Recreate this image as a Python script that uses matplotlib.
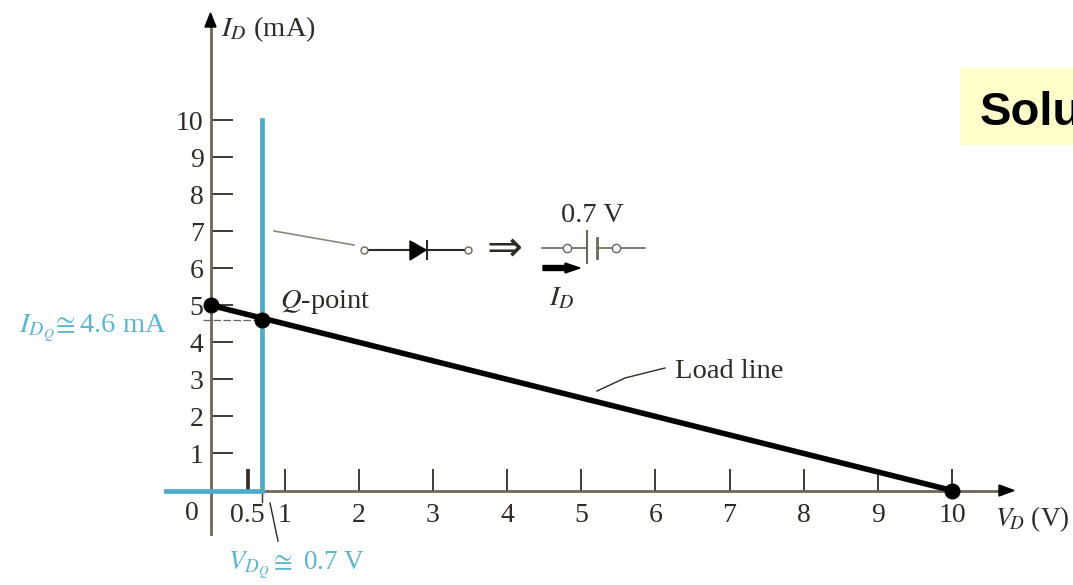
import matplotlib
matplotlib.use('Agg')
import matplotlib.pyplot as plt
from matplotlib.patches import Polygon, Rectangle

# Chart values
x_ticks = [0.5, 1, 2, 3, 4, 5, 6, 7, 8, 9, 10]
x_labels = ['0.5', '1', '2', '3', '4', '5', '6', '7', '8', '9', '10']
y_ticks = [1, 2, 3, 4, 5, 6, 7, 8, 9, 10]
y_labels = ['1', '2', '3', '4', '5', '6', '7', '8', '9', '10']
diode_v = [-0.6, 0.7, 0.7]
diode_i = [0, 0, 10]
load_v = [0, 10]
load_i = [5, 0]
q_v = 0.7
q_i = 4.6

BLUE = '#4FABC9'
TEXT_BLUE = '#5FB4CE'
AXIS = '#6E665A'
DARK = '#2E2A25'
FS = 20.5

plt.rcParams['font.family'] = ['Liberation Serif', 'DejaVu Sans']
plt.rcParams['mathtext.fontset'] = 'stix'

fig = plt.figure(figsize=(10.73, 5.85), dpi=100)

# Data axes fill the figure, scale
ax = fig.add_axes([0, 0, 1, 1])
ax.set_xlim(-210.5 / 74.15, (1073 - 210.5) / 74.15)
ax.set_ylim(-(585 - 490.5) / 37.05, 490.5 / 37.05)
ax.patch.set_alpha(0)

for side in ['top', 'right']:
    ax.spines[side].set_visible(False)
ax.spines['left'].set_position(('data', 0))
ax.spines['bottom'].set_position(('data', 0))
ax.spines['left'].set_bounds(-1.17, 12.7)
ax.spines['bottom'].set_bounds(-0.61, 10.75)
ax.spines['left'].set_color(AXIS)
ax.spines['bottom'].set_color(AXIS)
ax.spines['left'].set_linewidth(2)
ax.spines['bottom'].set_linewidth(2)

ax.set_xticks(x_ticks)
ax.set_xticklabels(x_labels)
ax.set_yticks(y_ticks)
ax.set_yticklabels(y_labels)
ax.tick_params(axis='x', direction='in', length=16, width=1.3, color=DARK,
               labelsize=20, labelcolor=DARK, pad=9)
ax.tick_params(axis='y', direction='in', length=16, width=1.3, color=DARK,
               labelsize=20, labelcolor=DARK, pad=5)
ax.xaxis.get_major_ticks()[0].tick1line.set_markeredgewidth(2.6)
ax.xaxis.get_major_ticks()[0].tick1line.set_color(AXIS)
ax.text(-0.25, -0.63, '0', fontsize=20, color=DARK, ha='center', va='center')

# Diode characteristic, load line and Q-point
ax.plot(diode_v, diode_i, color=BLUE, lw=3.4, solid_joinstyle='miter', zorder=3)
ax.plot(load_v, load_i, color='black', lw=4, zorder=4)
ax.plot([-0.1, q_v], [q_i, q_i], color=AXIS, lw=0.9, ls=(0, (6, 2)), zorder=2)
ax.plot([0, q_v, 10], [5, q_i, 0], ls='none', marker='o', ms=10.5, color='black', zorder=5)
ax.plot([q_v, q_v], [0, -0.3], color=DARK, lw=1, zorder=2)

# Overlay in image pixels for the annotations
ov = fig.add_axes([0, 0, 1, 1])
ov.set_xlim(0, 1073)
ov.set_ylim(585, 0)
ov.axis('off')

# axis arrow heads
ov.add_patch(Polygon([[205, 27], [216, 27], [210.5, 13]], color='black'))
ov.add_patch(Polygon([[999, 485], [999, 496], [1014, 490.5]], color='black'))

ov.text(221, 29, r'$I_D$ (mA)', fontsize=FS, color=DARK, ha='left', va='center')
ov.text(995, 519, r'$V_{\!D}$ (V)', fontsize=19.5, color=DARK, ha='left', va='center')
ov.text(280, 302, r'$Q$-point', fontsize=FS, color=DARK, ha='left', va='center')
ov.text(675, 371, 'Load line', fontsize=FS, color=DARK, ha='left', va='center')
ov.text(19, 328, r'$I_{D_Q}\!\cong$4.6 mA', fontsize=FS, color=TEXT_BLUE, ha='left', va='center')
ov.text(228, 565, r'$V_{D_Q}\cong$ 0.7 V', fontsize=19.5, color=TEXT_BLUE, ha='left', va='center')

# leaders
ov.plot([597, 625, 665], [391, 378, 368], color=DARK, lw=1)
ov.plot([270, 278], [503, 541], color=DARK, lw=1)
ov.plot([274, 354], [231, 245], color='#8E877C', lw=1.2)

# diode symbol
ov.plot([364, 468], [250, 250], color=DARK, lw=1.5, zorder=1)
ov.plot([364, 468], [250, 250], ls='none', marker='o', ms=5, mfc='white', mec=AXIS, mew=1, zorder=2)
ov.add_patch(Polygon([[410, 241], [410, 260], [426, 250]], color='black'))
ov.plot([427, 427], [241, 259], color=DARK, lw=1.5)
ov.text(505, 249, '\u21d2', fontsize=31, color=DARK, ha='center', va='center',
        family=['DejaVu Sans'])

# battery symbol
ov.plot([542, 587], [248, 248], color=AXIS, lw=1.2, zorder=1)
ov.plot([597, 645], [248, 248], color=AXIS, lw=1.2, zorder=1)
ov.plot([567, 616], [248, 248], ls='none', marker='o', ms=6, mfc='white', mec=AXIS, mew=1, zorder=2)
ov.plot([587, 587], [231, 263], color=AXIS, lw=1.5)
ov.plot([597, 597], [238, 258], color=AXIS, lw=2)
ov.text(592, 216, '0.7 V', fontsize=FS, color=DARK, ha='center', va='center')
ov.add_patch(Polygon([[543, 265.5], [565, 265.5], [565, 263], [580, 268], [565, 273], [565, 270.5], [543, 270.5]],
                     color='black'))
ov.text(549, 299, r'$I_D$', fontsize=FS, color=DARK, ha='left', va='center')

# yellow slide label, cut by the image edge
ov.add_patch(Rectangle((960, 68), 113, 77, color='#FFFFCC', lw=0, zorder=1))
ov.text(980, 125, 'Solu', fontsize=34, fontweight='bold', color='black', ha='left', va='baseline',
        family=['Liberation Sans'], zorder=2)

fig.savefig('out.png', dpi=100)
